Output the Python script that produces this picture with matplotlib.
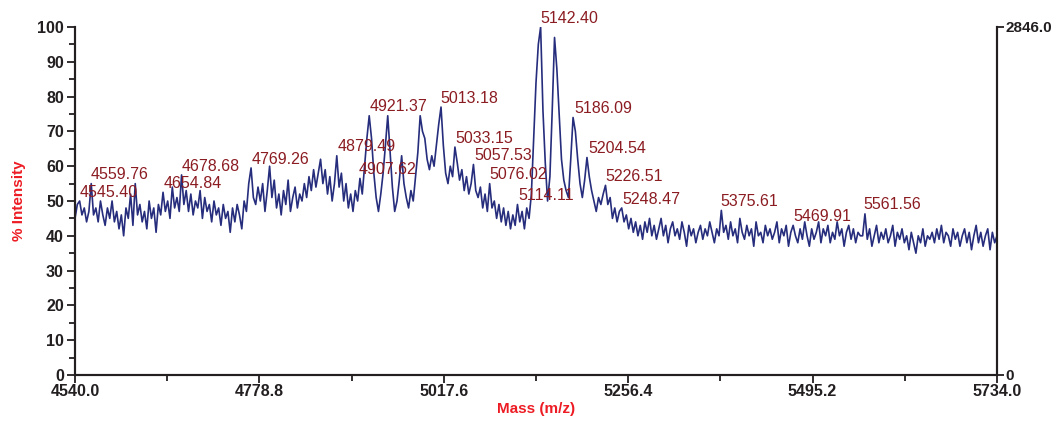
import numpy as np
import matplotlib
matplotlib.use("Agg")
import matplotlib.pyplot as plt

plt.rcParams["font.family"] = ["Liberation Sans", "DejaVu Sans"]

# spectrum trace in % intensity, one reading every 3 Da from 4540 to 5734
trace_low = [
    45, 49, 50, 46, 48, 44, 47, 55, 46, 48,
    44, 50, 46, 43, 48, 45, 50, 44, 47, 42,
    46, 40, 48, 45, 52, 43, 55, 46, 49, 44,
    47, 42, 50, 45, 48, 41, 49, 46, 52.5, 47,
    50, 45, 54, 48, 51, 47, 57.5, 49, 53, 47,
    52, 46, 50, 48, 53, 45, 51, 47, 49, 44,
    50, 46, 48, 43, 49, 45, 47, 41, 48, 44,
    49, 46, 42, 50, 47, 55, 59.5, 51, 49, 54,
    50, 55, 47, 53, 60, 51, 56, 48, 52, 46,
    53, 49, 56, 47, 51, 54, 48, 52, 50, 55,
    51, 57, 53, 59, 54, 58, 62, 55, 59, 52,
]
trace_cluster = [
    57, 50, 55, 63, 54, 58, 50, 55, 48, 52,
    47, 53, 50, 56.5, 52, 60, 68, 74.5, 68, 58,
    51, 47, 52, 58, 66, 74.5, 64, 54, 47, 50,
    56, 63, 55, 51, 48, 53, 50, 57, 64, 74.5,
    70, 68, 62, 59, 63, 60, 66, 72, 77, 66,
    58, 55, 60, 57, 65.5, 61, 56, 59, 53, 57,
    52, 55, 60.5, 53, 51, 54, 48, 52, 47, 55,
    48, 50, 45, 49, 44, 48, 43, 47, 42, 46,
    43, 49, 44, 47, 42, 48, 45, 52, 68, 84,
    95, 100, 76, 61, 50, 57, 76, 97, 88, 75,
    62, 56, 53, 51, 62, 74, 70, 62, 55, 51,
    56, 62.5, 57, 53, 50, 47, 51, 49, 52, 54.5,
    49, 51, 45, 48, 44, 47, 48, 44, 46, 42,
]
trace_high = [
    45, 41, 44, 40, 43, 39, 44, 41, 45, 40,
    43, 39, 42, 45, 40, 43, 38, 42, 44, 40,
    42, 39, 44, 41, 37, 43, 40, 42, 38, 41,
    43, 39, 42, 40, 44, 41, 38, 42, 40, 47.3,
    41, 43, 39, 44, 40, 42, 38, 45, 41, 39,
    43, 40, 42, 37, 44, 40, 41, 38, 43, 40,
    42, 39, 41, 44, 38, 42, 40, 43, 37, 41,
    43, 40, 38, 42, 39, 44, 40, 37, 42, 39,
    41, 44, 38, 42, 40, 43, 38, 41, 39, 44,
    40, 42, 37, 41, 43, 39, 42, 38, 41, 40,
    40, 46.3, 39, 42, 37, 40, 43, 38, 41, 39,
    42, 38, 40, 43, 37, 41, 39, 42, 38, 40,
    36, 41, 38, 35, 40, 38, 42, 37, 40, 39,
    41, 38, 42, 39, 43, 38, 41, 40, 37, 42,
    39, 41, 37, 40, 42, 38, 41, 36, 40, 43,
    38, 41, 37, 40, 42, 36, 41, 38, 40,
]

# labelled peaks
peak_mass = [4545.40, 4559.76, 4654.84, 4678.68, 4769.26, 4879.49, 4907.62,
             4921.37, 5013.18, 5033.15, 5057.53, 5076.02, 5114.11, 5142.40,
             5186.09, 5204.54, 5226.51, 5248.47, 5375.61, 5469.91, 5561.56]
peak_height = [50, 55, 52.5, 57.5, 59.5, 63, 56.5,
               74.5, 77, 65.5, 60.5, 55, 49, 100,
               74, 62.5, 54.5, 48, 47.3, 43, 46.3]

mass_start, mass_stop = 4540.0, 5734.0
max_counts = 2846.0

intensity = np.array(trace_low + trace_cluster + trace_high)
mass = np.linspace(mass_start, mass_stop, len(intensity))

ink = "#231f20"
red = "#ed1c24"
fig = plt.figure(figsize=(10.54, 4.21), dpi=100)
ax = fig.add_axes([75 / 1054, 46 / 421, 922 / 1054, 348 / 421])
ax.plot(mass, intensity, color="#262d7c", lw=1.2)

for m, h in zip(peak_mass, peak_height):
    ax.text(m, h + 0.4, f"{m:.2f}", color="#8b1c22", fontsize=11.5,
            ha="left", va="bottom")

ax.set_xlim(mass_start, mass_stop)
ax.set_ylim(0, 100)
major_x = np.linspace(mass_start, mass_stop, 6)
ax.set_xticks(major_x)
ax.set_xticklabels([f"{v:.1f}" for v in major_x])
ax.set_xticks(np.linspace(mass_start, mass_stop, 11), minor=True)
ax.set_yticks(range(0, 101, 10))
ax.set_yticks(range(0, 101, 5), minor=True)

ax2 = ax.twinx()
ax2.set_ylim(0, max_counts)
ax2.set_yticks([0, max_counts])
ax2.set_yticklabels(["0", f"{max_counts:.1f}"])

for a in (ax, ax2):
    a.spines["top"].set_visible(False)
    for s in a.spines.values():
        s.set_linewidth(1.5)
        s.set_color(ink)
    a.tick_params(which="major", length=6, width=1.3, color=ink, pad=2,
                  labelsize=11.5, labelcolor=ink)
    a.tick_params(which="minor", length=4, width=1.3, color=ink)
ax.tick_params(axis="x", which="major", pad=0.5)
ax2.tick_params(axis="y", which="major", length=5, pad=1, labelsize=11)
for a in (ax, ax2):
    for t in a.get_xticklabels() + a.get_yticklabels():
        t.set_fontweight("bold")

ax.set_xlabel("Mass (m/z)", color=red, fontsize=11, fontweight="bold", labelpad=2)
ax.set_ylabel("% Intensity", color=red, fontsize=11, fontweight="bold", labelpad=8)

fig.savefig("out.png", dpi=100)
